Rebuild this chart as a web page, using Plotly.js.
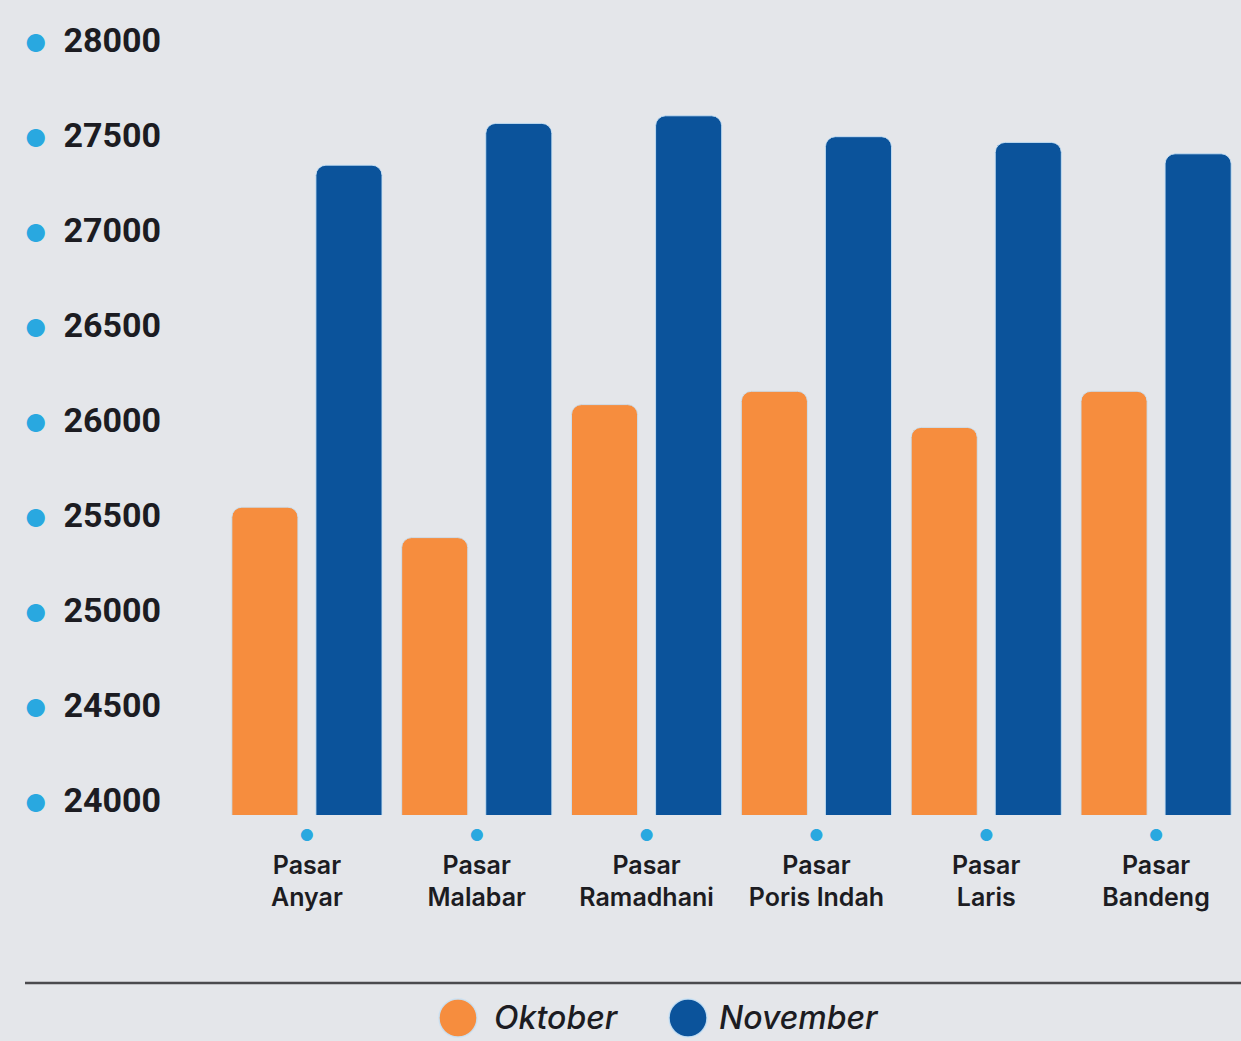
<!DOCTYPE html>
<html>
<head>
<meta charset="utf-8">
<script src="https://cdn.plot.ly/plotly-3.0.1.min.js"></script>
<style>
html,body{margin:0;padding:0;background:#e4e6ea;}
#chart{width:1241px;height:1041px;}
</style>
</head>
<body>
<div id="chart"></div>
<script>
// ---- data ----
const categories = ["Pasar<br>Anyar","Pasar<br>Malabar","Pasar<br>Ramadhani","Pasar<br>Poris Indah","Pasar<br>Laris","Pasar<br>Bandeng"];
const seriesNames = ["Oktober","November"];
const oktober = [25540, 25380, 26080, 26150, 25960, 26150];
const november = [27340, 27560, 27600, 27490, 27460, 27400];
const yTickVals = [24000, 24500, 25000, 25500, 26000, 26500, 27000, 27500, 28000];

// ---- styles ----
const ORANGE = '#f68d3e';
const BLUE = '#0b539b';
const DOT = '#29a8e0';
const W = 1241, H = 1041;
const ML = 222, MR = 0, MT = 0, MB = H - 815;
const PW = W - ML - MR, PH = H - MT - MB;
const px2x = p => (p - ML) / PW;
const py2y = p => (MT + PH - p) / PH;

const dotSpan = s => `<span style="color:${DOT};font-family:Inter;font-size:${s}px">●</span>`;
const barLine = {color:'rgba(200,225,245,0.9)', width:1};

const traces = [
  {type:'bar', name:seriesNames[0], x:categories, y:oktober,
   marker:{color:ORANGE, cornerradius:10, line:barLine},
   showlegend:false, hoverinfo:'skip'},
  {type:'bar', name:seriesNames[1], x:categories, y:november,
   marker:{color:BLUE, cornerradius:10, line:barLine},
   showlegend:false, hoverinfo:'skip'}
];

const shapes = [
  {type:'line', xref:'paper', yref:'paper', x0:px2x(25), x1:px2x(1241), y0:py2y(983), y1:py2y(983),
   line:{color:'#4a4a4e', width:2.5}},
  {type:'circle', xref:'paper', yref:'paper', x0:px2x(439), x1:px2x(477), y0:py2y(999), y1:py2y(1037),
   fillcolor:ORANGE, line:{color:'rgba(200,225,245,0.9)', width:1.5}},
  {type:'circle', xref:'paper', yref:'paper', x0:px2x(669), x1:px2x(707), y0:py2y(999), y1:py2y(1037),
   fillcolor:BLUE, line:{color:'rgba(200,225,245,0.9)', width:1.5}}
];

const legendFont = {family:'Inter, sans-serif', size:32, color:'#1c1c22', weight:500};
const annotations = [
  {xref:'paper', yref:'paper', x:px2x(492), y:py2y(1018), xanchor:'left', yanchor:'middle', showarrow:false,
   text:'<i>'+seriesNames[0]+'</i>', font:legendFont},
  {xref:'paper', yref:'paper', x:px2x(717), y:py2y(1018), xanchor:'left', yanchor:'middle', showarrow:false,
   text:'<i>'+seriesNames[1]+'</i>', font:legendFont}
];

const layout = {
  width:W, height:H,
  margin:{l:ML, r:MR, t:MT, b:MB, pad:0},
  paper_bgcolor:'#e4e6ea', plot_bgcolor:'rgba(0,0,0,0)',
  barmode:'group', bargap:0.01, bargroupgap:0.214,
  showlegend:false,
  xaxis:{type:'category', showgrid:false, zeroline:false, showline:false,
    tickvals:categories, ticktext:categories.map(c => dotSpan(16)+'<br>'+c),
    ticks:'', ticklabelstandoff:0,
    tickfont:{family:'Inter, sans-serif', size:25, color:'#1c1c22', weight:600}},
  yaxis:{range:[23920, 28209.5], showgrid:false, zeroline:false, showline:false,
    tickvals:yTickVals, ticktext:yTickVals.map(v => dotSpan(24)+'  '+v),
    ticks:'', ticklabelstandoff:60,
    tickfont:{family:'Roboto, sans-serif', size:34, color:'#1c1c22', weight:700}},
  shapes:shapes, annotations:annotations
};

Plotly.newPlot('chart', traces, layout, {staticPlot:true, displayModeBar:false});
</script>
</body>
</html>
